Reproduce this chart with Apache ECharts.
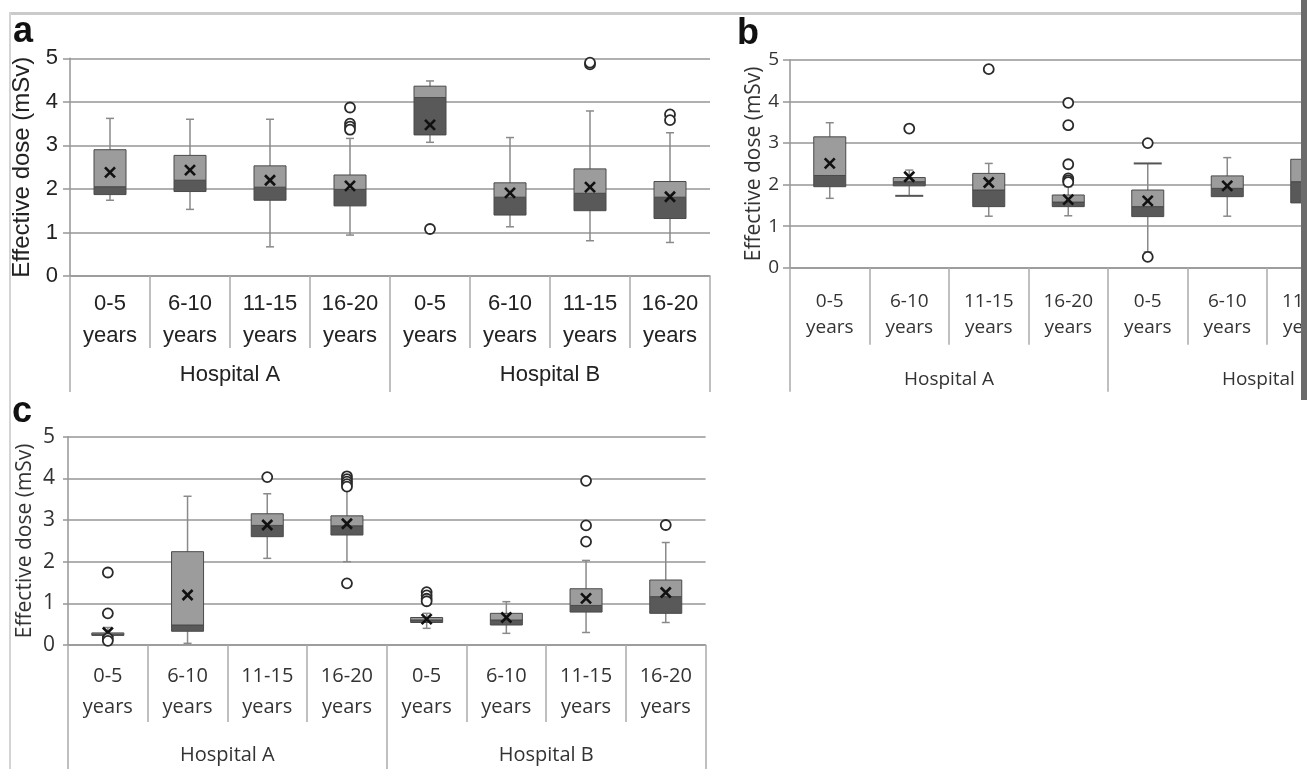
<!DOCTYPE html>
<html>
<head>
<meta charset="utf-8">
<script src="https://cdn.jsdelivr.net/npm/echarts@6/dist/echarts.min.js"></script>
<style>
html,body{margin:0;padding:0;background:#fff;}
#chart{width:1307px;height:769px;}
</style>
</head>
<body>
<div id="chart"></div>
<script>
// ---------- data ----------
const ageGroups = ['0-5\nyears', '6-10\nyears', '11-15\nyears', '16-20\nyears'];
const hospitals = ['Hospital A', 'Hospital B'];
const yTicks = [0, 1, 2, 3, 4, 5];
const yTitle = 'Effective dose (mSv)';
const panelLetters = ['a', 'b', 'c'];

// order: Hospital A (0-5, 6-10, 11-15, 16-20), Hospital B (0-5, 6-10, 11-15, 16-20)
// panel a
const aWhiskerLow  = [1.74, 1.53, 0.67, 0.94, 3.07, 1.13, 0.81, 0.77];
const aQ1          = [1.87, 1.94, 1.74, 1.61, 3.24, 1.40, 1.50, 1.32];
const aMedian      = [2.05, 2.20, 2.04, 1.99, 4.10, 1.81, 1.90, 1.81];
const aQ3          = [2.90, 2.77, 2.53, 2.32, 4.36, 2.14, 2.46, 2.17];
const aWhiskerHigh = [3.62, 3.60, 3.60, 3.16, 4.48, 3.18, 3.79, 3.29];
const aMean        = [2.38, 2.43, 2.20, 2.07, 3.47, 1.91, 2.04, 1.82];
const aOutliers    = [[3, 3.87], [3, 3.50], [3, 3.43], [3, 3.36], [4, 1.08], [6, 4.86], [6, 4.90], [7, 3.71], [7, 3.58]];

// panel b (last group is cut off at the right edge of the figure)
const bWhiskerLow  = [1.67, 1.73, 1.24, 1.25, 0.38, 1.24, 1.20, null];
const bQ1          = [1.95, 1.97, 1.47, 1.47, 1.23, 1.71, 1.56, null];
const bMedian      = [2.22, 2.07, 1.87, 1.58, 1.47, 1.91, 2.07, null];
const bQ3          = [3.15, 2.17, 2.27, 1.75, 1.87, 2.21, 2.61, null];
const bWhiskerHigh = [3.49, 2.35, 2.51, 1.95, 2.51, 2.65, 3.20, null];
const bMean        = [2.51, 2.19, 2.05, 1.64, 1.61, 1.97, 2.10, null];
const bOutliers    = [[1, 3.35], [2, 4.78], [3, 3.97], [3, 3.43], [3, 2.49], [3, 2.15], [3, 2.10], [3, 2.06], [4, 3.00], [4, 0.26]];

// panel c
const cWhiskerLow  = [0.20, 0.04, 2.08, 2.00, 0.40, 0.28, 0.30, 0.54];
const cQ1          = [0.23, 0.33, 2.60, 2.64, 0.54, 0.48, 0.79, 0.76];
const cMedian      = [0.26, 0.48, 2.87, 2.86, 0.60, 0.60, 0.95, 1.16];
const cQ3          = [0.29, 2.24, 3.15, 3.10, 0.66, 0.76, 1.35, 1.56];
const cWhiskerHigh = [0.42, 3.57, 3.63, 3.72, 0.76, 1.04, 2.03, 2.46];
const cMean        = [0.30, 1.20, 2.88, 2.91, 0.62, 0.66, 1.12, 1.26];
const cOutliers    = [[0, 1.74], [0, 0.76], [0, 0.16], [0, 0.10], [2, 4.03], [3, 4.05], [3, 3.98], [3, 3.92], [3, 3.86], [3, 3.80], [3, 1.48], [4, 1.27], [4, 1.19], [4, 1.11], [4, 1.05], [6, 3.94], [6, 2.87], [6, 2.48], [7, 2.88]];

// ---------- styling / layout ----------
const categories = hospitals.flatMap(() => ageGroups);
const FONT_A = '"Liberation Sans", Arial, sans-serif';
const FONT_BC = '"Open Sans", Lato, sans-serif';
const BOX_W = 32, CAP_W = 8, WIDE_CAP_W = 28;
const LIGHT = '#9c9c9c', DARK = '#595959', EDGE = '#4a4a4a', WHISK = '#8a8a8a', GRID = '#969696';

const panels = [
  { low: aWhiskerLow, q1: aQ1, med: aMedian, q3: aQ3, high: aWhiskerHigh, mean: aMean, out: aOutliers,
    wideLow: [], wideHigh: [],
    grid: { left: 70, width: 640, top: 58.3, height: 217.7 },
    font: FONT_A, catSize: 22, catLH: 32, catMargin: 12, hospSize: 22, hospMargin: 88,
    shortTick: 72, longTick: 116, ySize: 22, yMargin: 12, yTick: 7, nameSize: 24, nameGap: 36, color: '#222' },
  { low: bWhiskerLow, q1: bQ1, med: bMedian, q3: bQ3, high: bWhiskerHigh, mean: bMean, out: bOutliers,
    wideLow: [1], wideHigh: [4],
    grid: { left: 790, width: 636, top: 60, height: 207.7 },
    font: FONT_BC, catSize: 19, catLH: 26, catMargin: 21, hospSize: 19, hospMargin: 102,
    shortTick: 77, longTick: 124, ySize: 19, yMargin: 11, yTick: 7, nameSize: 21, nameGap: 25, color: '#333' },
  { low: cWhiskerLow, q1: cQ1, med: cMedian, q3: cQ3, high: cWhiskerHigh, mean: cMean, out: cOutliers,
    wideLow: [], wideHigh: [],
    grid: { left: 68, width: 637.6, top: 436.7, height: 208.3 },
    font: FONT_BC, catSize: 20, catLH: 31, catMargin: 16, hospSize: 20, hospMargin: 100,
    shortTick: 77, longTick: 130, ySize: 21, yMargin: 13, yTick: 5, nameSize: 21, nameGap: 32, color: '#333' }
];

function makeRenderer(p) {
  return function (params, api) {
    const x = api.value(0);
    const pLow = api.coord([x, api.value(1)]);
    const pQ1 = api.coord([x, api.value(2)]);
    const pMed = api.coord([x, api.value(3)]);
    const pQ3 = api.coord([x, api.value(4)]);
    const pHigh = api.coord([x, api.value(5)]);
    const pMean = api.coord([x, api.value(6)]);
    const cx = pQ1[0];
    const hw = BOX_W / 2;
    const ws = { stroke: WHISK, lineWidth: 1.5 };
    const ms = { stroke: '#111', lineWidth: 2.6 };
    const m = 5, my = pMean[1];
    const lc = (p.wideLow.indexOf(x) >= 0 ? WIDE_CAP_W : CAP_W) / 2;
    const hc = (p.wideHigh.indexOf(x) >= 0 ? WIDE_CAP_W : CAP_W) / 2;
    const lowStyle = p.wideLow.indexOf(x) >= 0 ? { stroke: '#555', lineWidth: 2 } : ws;
    const highStyle = p.wideHigh.indexOf(x) >= 0 ? { stroke: '#555', lineWidth: 2 } : ws;
    return {
      type: 'group',
      children: [
        { type: 'line', shape: { x1: cx, y1: pLow[1], x2: cx, y2: pHigh[1] }, style: ws },
        { type: 'line', shape: { x1: cx - lc, y1: pLow[1], x2: cx + lc, y2: pLow[1] }, style: lowStyle },
        { type: 'line', shape: { x1: cx - hc, y1: pHigh[1], x2: cx + hc, y2: pHigh[1] }, style: highStyle },
        { type: 'rect', shape: { x: cx - hw, y: pMed[1], width: BOX_W, height: pQ1[1] - pMed[1] },
          style: { fill: DARK, stroke: EDGE, lineWidth: 1 } },
        { type: 'rect', shape: { x: cx - hw, y: pQ3[1], width: BOX_W, height: pMed[1] - pQ3[1] },
          style: { fill: LIGHT, stroke: EDGE, lineWidth: 1 } },
        { type: 'line', shape: { x1: cx - m, y1: my - m, x2: cx + m, y2: my + m }, style: ms },
        { type: 'line', shape: { x1: cx - m, y1: my + m, x2: cx + m, y2: my - m }, style: ms }
      ]
    };
  };
}

const option = { animation: false, backgroundColor: '#fff', grid: [], xAxis: [], yAxis: [], series: [], graphic: [] };

panels.forEach((p, i) => {
  option.grid.push(Object.assign({ containLabel: false, outerBoundsMode: 'none' }, p.grid));
  option.xAxis.push({
    gridIndex: i, type: 'category', data: categories, boundaryGap: true, position: 'bottom',
    axisLine: { show: true, lineStyle: { color: GRID, width: 1.5 } },
    axisTick: { show: true, interval: 0, length: p.shortTick, lineStyle: { color: '#aaa', width: 1.5 } },
    axisLabel: { interval: 0, margin: p.catMargin, lineHeight: p.catLH, fontSize: p.catSize,
      fontFamily: p.font, color: p.color, align: 'center' },
    splitLine: { show: false }
  });
  option.xAxis.push({
    gridIndex: i, type: 'category', data: hospitals, boundaryGap: true, position: 'bottom',
    axisLine: { show: false },
    axisTick: { show: true, interval: 0, length: p.longTick, lineStyle: { color: '#aaa', width: 1.5 } },
    axisLabel: { interval: 0, margin: p.hospMargin, fontSize: p.hospSize, fontFamily: p.font, color: p.color },
    splitLine: { show: false }
  });
  option.yAxis.push({
    gridIndex: i, type: 'value', min: yTicks[0], max: yTicks[yTicks.length - 1], interval: 1,
    axisLine: { show: true, lineStyle: { color: GRID, width: 1.5 } },
    axisTick: { show: true, length: p.yTick, lineStyle: { color: GRID, width: 1.5 } },
    splitLine: { show: true, lineStyle: { color: GRID, width: 1.6 } },
    axisLabel: { fontSize: p.ySize, fontFamily: p.font, color: p.color, margin: p.yMargin },
    name: yTitle, nameLocation: 'middle', nameGap: p.nameGap,
    nameTextStyle: { fontSize: p.nameSize, fontFamily: p.font, color: p.color }
  });
  const boxData = [];
  p.q1.forEach((q, k) => {
    if (q == null) return;
    boxData.push([k, p.low[k], p.q1[k], p.med[k], p.q3[k], p.high[k], p.mean[k]]);
  });
  option.series.push({
    type: 'custom', xAxisIndex: 2 * i, yAxisIndex: i, renderItem: makeRenderer(p),
    encode: { x: 0, y: [1, 2, 3, 4, 5, 6] }, data: boxData, z: 3, clip: false
  });
  option.series.push({
    type: 'scatter', xAxisIndex: 2 * i, yAxisIndex: i, data: p.out, symbol: 'circle', symbolSize: 10,
    itemStyle: { color: '#fff', borderColor: '#2a2a2a', borderWidth: 1.8, opacity: 1 }, z: 4
  });
});

option.graphic = [
  { type: 'rect', left: 10, top: 12, shape: { width: 1291, height: 3 }, style: { fill: '#cacaca' }, z: 10 },
  { type: 'rect', left: 9, top: 12, shape: { width: 2, height: 757 }, style: { fill: '#d4d4d4' }, z: 10 },
  { type: 'rect', left: 1301, top: 0, shape: { width: 6, height: 400 }, style: { fill: '#6b6b6b' }, z: 100 },
  { type: 'text', x: 13, y: 32, style: { text: panelLetters[0], font: 'bold 36px ' + FONT_A, fill: '#111', verticalAlign: 'middle' }, z: 10 },
  { type: 'text', x: 737, y: 34, style: { text: panelLetters[1], font: 'bold 36px ' + FONT_A, fill: '#111', verticalAlign: 'middle' }, z: 10 },
  { type: 'text', x: 12, y: 412, style: { text: panelLetters[2], font: 'bold 36px ' + FONT_A, fill: '#111', verticalAlign: 'middle' }, z: 10 }
];

const chart = echarts.init(document.getElementById('chart'), null, { renderer: 'canvas' });
chart.setOption(option);
</script>
</body>
</html>
